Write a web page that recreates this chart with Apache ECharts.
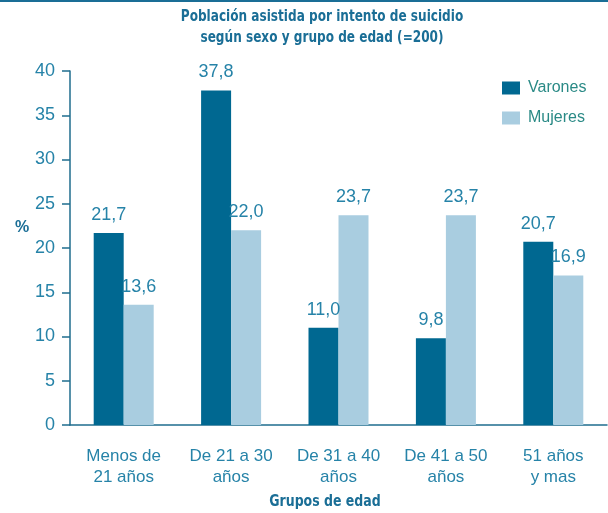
<!DOCTYPE html>
<html>
<head>
<meta charset="utf-8">
<script src="https://cdn.jsdelivr.net/npm/echarts@6/dist/echarts.min.js"></script>
<style>
  html, body { margin: 0; padding: 0; background: #fff; }
  #chart { width: 608px; height: 513px; }
</style>
</head>
<body>
<div id="chart"></div>
<script>
var categories = ['Menos de\n21 años', 'De 21 a 30\naños', 'De 31 a 40\naños', 'De 41 a 50\naños', '51 años\ny mas'];
var varones = [21.7, 37.8, 11.0, 9.8, 20.7];
var mujeres = [13.6, 22.0, 23.7, 23.7, 16.9];
var yTicks = [0, 5, 10, 15, 20, 25, 30, 35, 40];

var axisColor = '#1f6d8e';
var textColor = '#2683a8';
var titleColor = '#1a6e96';
var condensed = "'DejaVu Sans Condensed', 'Liberation Sans', sans-serif";
var plain = "'Liberation Sans', Arial, sans-serif";

function comma(p) {
  return p.value.toFixed(1).replace('.', ',');
}

// bold condensed headings, squeezed a bit to look like the printed face
function heading(txt, x, y, size, sx) {
  return {
    type: 'text',
    x: x,
    y: y,
    scaleX: sx,
    style: {
      text: txt,
      fill: titleColor,
      font: 'bold ' + size + 'px ' + condensed,
      align: 'center',
      verticalAlign: 'middle'
    }
  };
}

var chart = echarts.init(document.getElementById('chart'));
chart.setOption({
  animation: false,
  legend: {
    orient: 'vertical',
    left: 497,
    top: 75,
    itemWidth: 18,
    itemHeight: 13,
    itemGap: 14,
    icon: 'rect',
    textStyle: { color: '#2a8a86', fontFamily: plain, fontSize: 16, padding: [0, 0, 0, 3] },
    data: ['Varones', 'Mujeres']
  },
  grid: {
    left: 70,
    right: 1,
    top: 71,
    bottom: 88,
    containLabel: false
  },
  xAxis: {
    type: 'category',
    data: categories,
    axisLine: { lineStyle: { color: axisColor, width: 1.5 } },
    axisTick: { length: 6, lineStyle: { color: axisColor, width: 1.5 } },
    axisLabel: {
      interval: 0,
      color: textColor,
      fontFamily: plain,
      fontSize: 17,
      lineHeight: 21,
      margin: 21
    }
  },
  yAxis: {
    type: 'value',
    min: yTicks[0],
    max: yTicks[yTicks.length - 1],
    interval: 5,
    splitLine: { show: false },
    axisLine: { show: true, lineStyle: { color: axisColor, width: 1.5 } },
    axisTick: { show: true, length: 8, lineStyle: { color: axisColor, width: 1.5 } },
    axisLabel: { color: textColor, fontFamily: plain, fontSize: 18, margin: 15 }
  },
  series: [
    {
      name: 'Varones',
      type: 'bar',
      data: varones,
      barWidth: 30,
      barGap: '0%',
      itemStyle: { color: '#006891' },
      label: { show: true, position: 'top', distance: 9, formatter: comma, color: textColor, fontFamily: plain, fontSize: 18 }
    },
    {
      name: 'Mujeres',
      type: 'bar',
      data: mujeres,
      barWidth: 30,
      itemStyle: { color: '#a9cde0' },
      label: { show: true, position: 'top', distance: 9, formatter: comma, color: textColor, fontFamily: plain, fontSize: 18 }
    }
  ],
  graphic: [
    { type: 'rect', left: 0, top: 0, shape: { width: 608, height: 2 }, style: { fill: '#1a6e96' } },
    heading('Población asistida por intento de suicidio', 322, 17, 16, 0.84),
    heading('según sexo y grupo de edad (=200)', 322, 38, 16, 0.84),
    heading('Grupos de edad', 325, 502, 16, 0.87),
    {
      type: 'text',
      x: 22,
      y: 228,
      style: { text: '%', fill: titleColor, font: 'bold 16px ' + plain, align: 'center', verticalAlign: 'middle' }
    }
  ]
});
</script>
</body>
</html>
